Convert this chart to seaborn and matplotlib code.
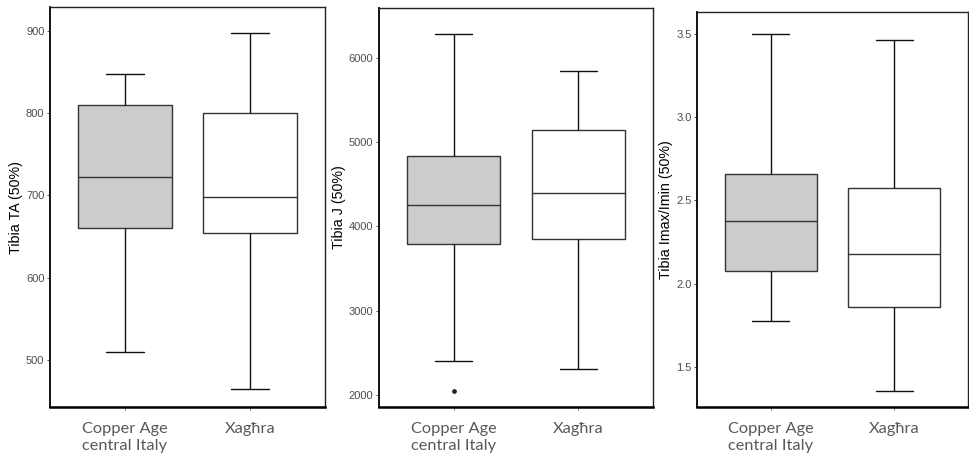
import numpy as np
import pandas as pd
import matplotlib
matplotlib.use("Agg")
import matplotlib.pyplot as plt
import seaborn as sns

# ==========================================
# DATA (values read off the boxes)
# ==========================================

groups = ["Copper Age\ncentral Italy", "Xagħra"]

# observations chosen so that quartiles / whiskers land on the read values
ta_copper = [510, 660, 660, 723, 723, 723, 810, 810, 848]
ta_xaghra = [465, 655, 655, 698, 698, 698, 800, 800, 898]

j_copper = [2050, 2400, 3790, 4260, 4260, 4260, 4840, 4840, 6290]
j_xaghra = [2310, 3850, 3850, 4400, 4400, 4400, 5150, 5150, 5850]

ratio_copper = [1.78, 2.08, 2.08, 2.38, 2.38, 2.38, 2.66, 2.66, 3.50]
ratio_xaghra = [1.36, 1.86, 1.86, 2.18, 2.18, 2.18, 2.575, 2.575, 3.46]

ylabels = ["Tibia TA (50%)", "Tibia J (50%)", "Tibia Imax/Imin (50%)"]
yticks = [[500, 600, 700, 800, 900],
          [2000, 3000, 4000, 5000, 6000],
          [1.5, 2.0, 2.5, 3.0, 3.5]]
ylims = [(443, 929), (1855, 6594), (1.262, 3.63)]
fills = ["#CBCCCB", "#FFFFFF"]

# ==========================================
# FIGURE
# ==========================================

sns.set_style("white")
plt.rcParams["font.family"] = ["Liberation Sans", "DejaVu Sans"]

fig = plt.figure(figsize=(9.7, 4.61), dpi=100)
W, H = 970, 461

# pixel boxes: left, right, top, bottom
boxes = [(50, 325, 7, 407), (379, 653, 8, 407), (697, 968, 12, 407)]

series = [(ta_copper, ta_xaghra), (j_copper, j_xaghra), (ratio_copper, ratio_xaghra)]

for i in range(3):
    l, r, t, b = boxes[i]
    ax = fig.add_axes([l / W, 1 - b / H, (r - l) / W, (b - t) / H])

    a, c = series[i]
    df = pd.DataFrame({
        "group": [groups[0]] * len(a) + [groups[1]] * len(c),
        "value": a + c
    })

    sns.boxplot(data=df, x="group", y="value", hue="group",
                palette=fills, legend=False, width=0.75,
                linecolor="#333333", linewidth=1.0,
                fliersize=2.4, capwidths=0.3,
                flierprops={"marker": "o", "markerfacecolor": "#222222",
                            "markeredgecolor": "#222222"},
                whiskerprops={"color": "#111111"},
                capprops={"color": "#111111"},
                ax=ax)

    ax.set_xlim(-0.6, 1.6)
    ax.set_ylim(*ylims[i])
    ax.set_yticks(yticks[i])
    if i == 2:
        ax.set_yticklabels([f"{v:.1f}" for v in yticks[i]])
    ax.set_xlabel("")
    ax.set_ylabel(ylabels[i], fontsize=10.3, color="black", labelpad=2)

    ax.tick_params(axis="y", labelsize=8, labelcolor="#4D4D4D",
                   color="#333333", length=2.5, width=0.6, pad=1.5, left=True)
    ax.tick_params(axis="x", color="#555555", length=2.5, width=0.6,
                   pad=8, bottom=True)
    for lab in ax.get_xticklabels():
        lab.set_family(["Lato", "DejaVu Sans"])
        lab.set_fontsize(11.8)
        lab.set_color("#595959")
        lab.set_linespacing(1.3)

    for side in ["top", "right"]:
        ax.spines[side].set_color("#222222")
        ax.spines[side].set_linewidth(1.0)
    ax.spines["left"].set_color("black")
    ax.spines["left"].set_linewidth(1.3)
    ax.spines["bottom"].set_color("black")
    ax.spines["bottom"].set_linewidth(1.8)

fig.savefig("out.png", dpi=100)
